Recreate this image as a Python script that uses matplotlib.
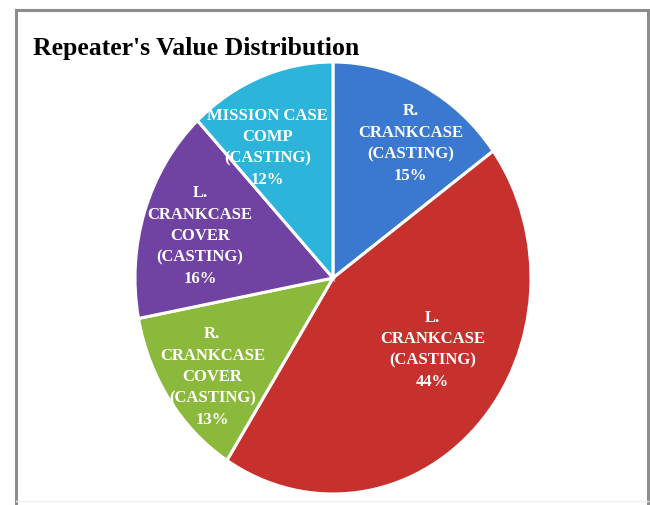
import matplotlib.pyplot as plt
from matplotlib.lines import Line2D
import numpy as np

# -----------------------------
# Данные
# -----------------------------
parts = [
    "R.\nCRANKCASE\n(CASTING)",
    "L.\nCRANKCASE\n(CASTING)",
    "R.\nCRANKCASE\nCOVER\n(CASTING)",
    "L.\nCRANKCASE\nCOVER\n(CASTING)",
    "MISSION CASE\nCOMP\n(CASTING)",
]
shares = [15, 44, 13, 16, 12]
colors = ["#3b78cf", "#c6302d", "#8bb93b", "#7042a1", "#2cb4da"]

# положение подписей: радиус и сдвиг угла (градусы) от середины сектора
label_r = [0.74, 0.60, 0.76, 0.70, 0.69]
label_shift = [-5, 10, 2.5, 1.5, 7]

W, H = 650, 506
fig = plt.figure(figsize=(W / 100, H / 100), dpi=100)
fig.patch.set_facecolor("white")


def px(x, y):
    return x / W, 1 - y / H


# рамка области диаграммы (снизу обрезана)
for (x0, y0), (x1, y1) in [((16, 11), (648, 11)), ((16, 11), (16, 506)),
                           ((648, 11), (648, 506))]:
    a, b = px(x0, y0)
    c, d = px(x1, y1)
    fig.add_artist(Line2D([a, c], [b, d], transform=fig.transFigure,
                          color="#8c8c8c", lw=2.2))
a, b = px(16, 502)
c, d = px(648, 502)
fig.add_artist(Line2D([a, c], [b, d], transform=fig.transFigure,
                      color="#eeeeee", lw=1))

tx, ty = px(33, 55)
fig.text(tx, ty, "Repeater's Value Distribution", family="Liberation Serif",
         fontweight="bold", fontsize=18.5, va="baseline", ha="left")

# -----------------------------
# Круговая диаграмма (слегка вытянута по вертикали)
# -----------------------------
l, t = 135, 63
r, bt = 531, 495
ax = fig.add_axes([l / W, 1 - bt / H, (r - l) / W, (bt - t) / H])
wedges, _ = ax.pie(shares, colors=colors, startangle=90, counterclock=False,
                   wedgeprops=dict(edgecolor="white", linewidth=2.2))
ax.set_aspect("auto")
ax.set_xlim(-1, 1)
ax.set_ylim(-1, 1)
ax.axis("off")

for w, name, val, rr, sh in zip(wedges, parts, shares, label_r, label_shift):
    ang = np.deg2rad((w.theta1 + w.theta2) / 2 + sh)
    ax.text(rr * np.cos(ang), rr * np.sin(ang), f"{name}\n{val}%",
            ha="center", va="center", color="white", family="Liberation Serif",
            fontweight="bold", fontsize=12, linespacing=1.45)

plt.savefig("out.png", dpi=100, facecolor="white")
